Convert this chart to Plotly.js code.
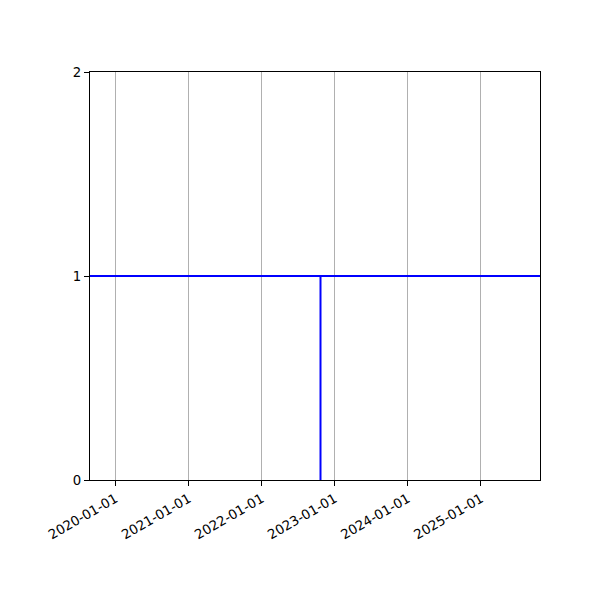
<!DOCTYPE html>
<html>
<head>
<meta charset="utf-8">
<script src="https://cdn.plot.ly/plotly-3.0.1.min.js"></script>
<style>
  body { margin: 0; background: #fff; }
  #chart { width: 600px; height: 600px; }
</style>
</head>
<body>
<div id="chart"></div>
<script>
// the two reference lines
const hlineValue = [1];
const vlineDate = ['2022-10-22'];
const vlineTop = [1];

// axis settings
const xRange = ['2019-08-27', '2025-10-23'];
const yTicks = [0, 1, 2];

const blue = '#0000ff';

const trace = {
   x: [vlineDate[0], vlineDate[0]],
   y: [0, vlineTop[0]],
   mode: 'lines',
   line: { color: blue, width: 2 },
   hoverinfo: 'skip',
   showlegend: false
};

const layout = {
   width: 600,
   height: 600,
   margin: { l: 90, r: 60, t: 72, b: 120 },
   paper_bgcolor: '#fff',
   plot_bgcolor: '#fff',
   font: { family: 'DejaVu Sans', size: 13.3, color: '#000' },
   showlegend: false,
   xaxis: {
      type: 'date',
      range: xRange,
      tick0: '2020-01-01',
      dtick: 'M12',
      tickformat: '%Y-%m-%d',
      tickangle: -30,
      ticks: 'outside',
      ticklen: 5,
      tickwidth: 1,
      tickcolor: '#000',
      showgrid: true,
      gridcolor: '#b0b0b0',
      gridwidth: 1,
      showline: true,
      linecolor: '#000',
      linewidth: 1,
      mirror: true,
      zeroline: false
   },
   yaxis: {
      range: [0, 2],
      tickvals: yTicks,
      ticks: 'outside',
      ticklen: 5,
      tickwidth: 1,
      tickcolor: '#000',
      showgrid: false,
      showline: true,
      linecolor: '#000',
      linewidth: 1,
      mirror: true,
      zeroline: false
   },
   shapes: [{
      type: 'line',
      xref: 'paper', yref: 'y',
      x0: 0, x1: 1,
      y0: hlineValue[0], y1: hlineValue[0],
      line: { color: blue, width: 2 }
   }]
};

const options = { displayModeBar: false, staticPlot: true };
Plotly.newPlot('chart', [trace], layout, options);
</script>
</body>
</html>
